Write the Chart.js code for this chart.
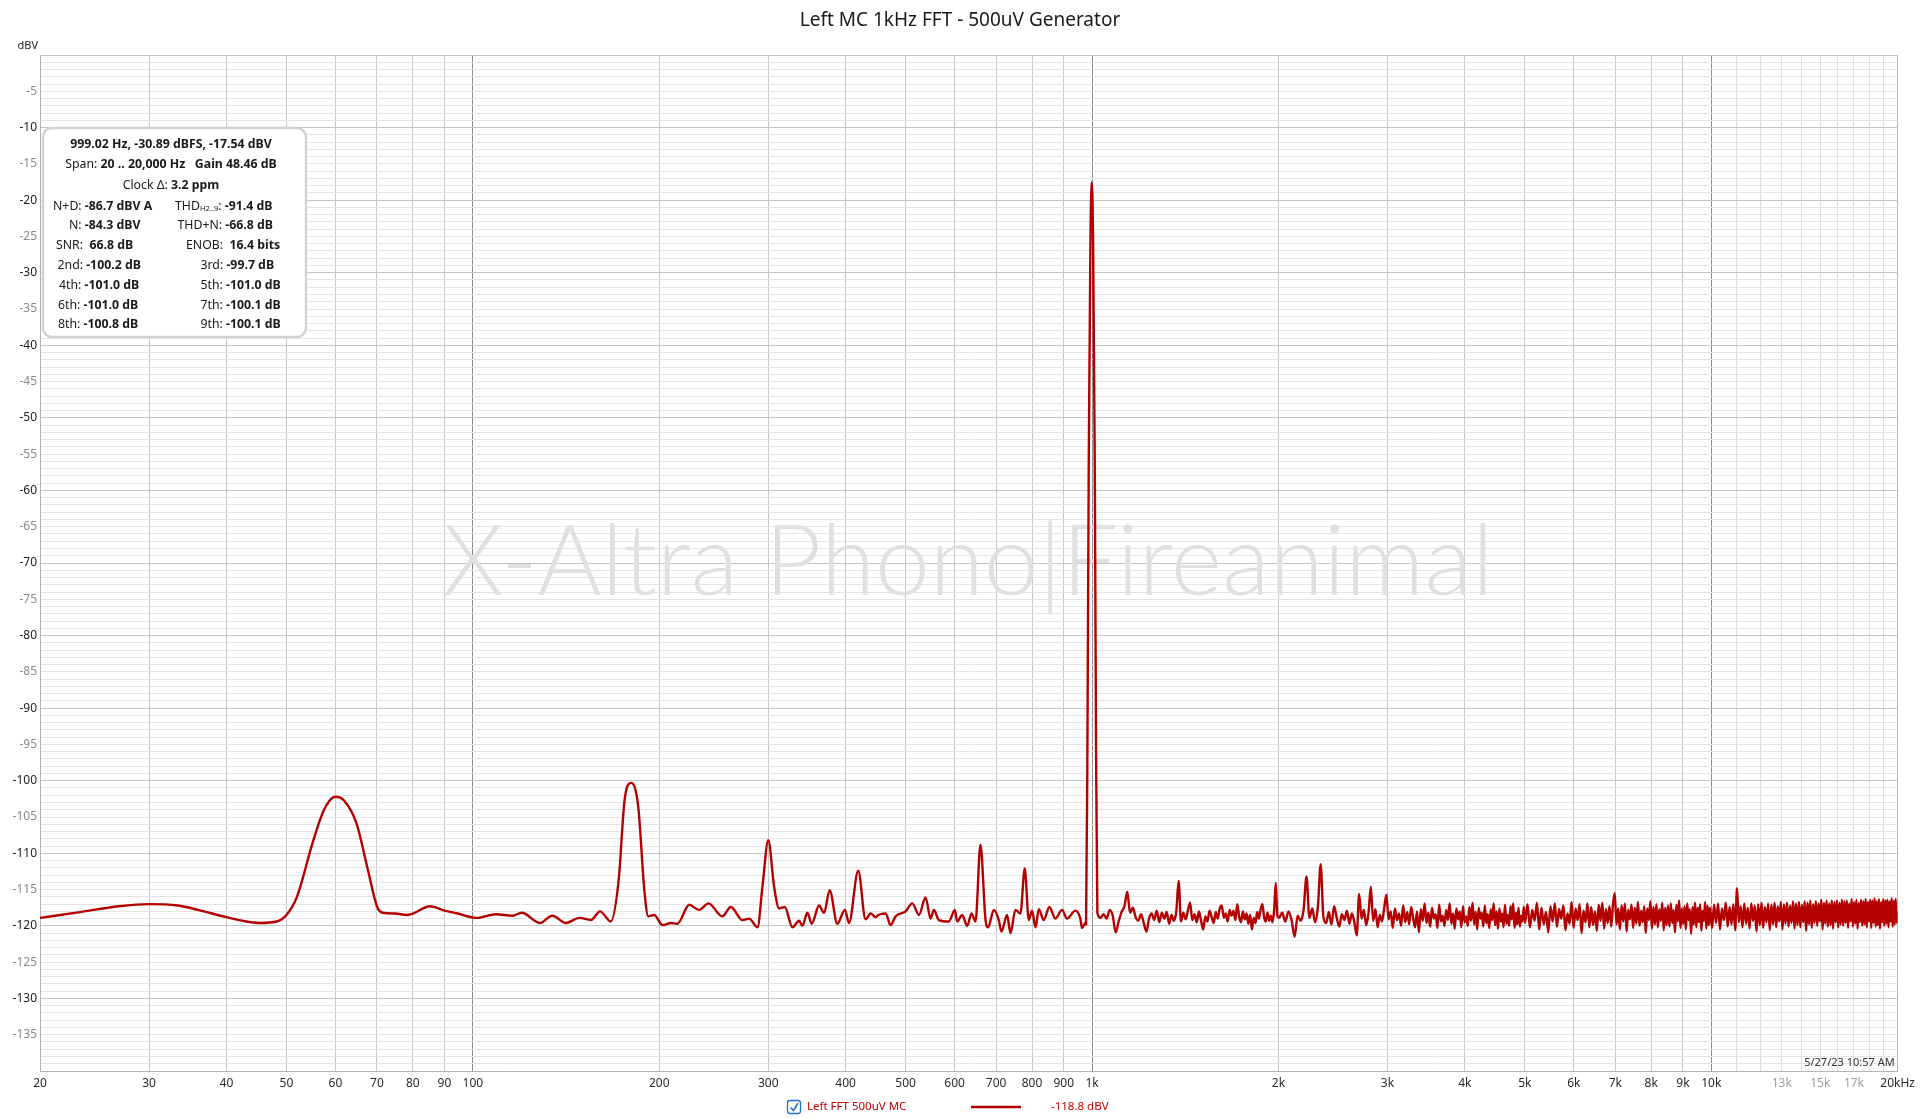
<!DOCTYPE html>
<html>
<head>
<meta charset="utf-8">
<title>Left MC 1kHz FFT - 500uV Generator</title>
<script src="https://cdn.jsdelivr.net/npm/chart.js@4.4.1/dist/chart.umd.min.js"></script>
<style>
  html, body { margin: 0; padding: 0; background: #fff; overflow: hidden; }
  canvas { display: block; }
</style>
</head>
<body>
<canvas id="fftChart" width="1920" height="1119"></canvas>
<script>
// fft.js — REW style FFT plot, Chart.js

const FONT      = '"Noto Sans", "Open Sans", sans-serif';
const WM_FONT   = 'Lato, "Noto Sans", sans-serif';
const TRACE_RED = '#b40000';

const TITLE      = 'Left MC 1kHz FFT - 500uV Generator';
const Y_UNIT     = 'dBV';
const WATERMARK  = 'X-Altra Phono|Fireanimal';
const TIMESTAMP  = '5/27/23 10:57 AM';
const LEGEND     = ['Left FFT 500uV MC', '-118.8 dBV'];

// ── Axes
const yRange      = [-140, 0];
const xRange      = [20, 20000];
const xTickValues = [20, 30, 40, 50, 60, 70, 80, 90, 100, 200, 300, 400, 500, 600, 700, 800, 900,
                     1000, 2000, 3000, 4000, 5000, 6000, 7000, 8000, 9000, 10000,
                     11000, 12000, 13000, 14000, 15000, 16000, 17000, 18000, 19000, 20000];
const xTickLabels = ['20', '30', '40', '50', '60', '70', '80', '90', '100', '200', '300', '400', '500', '600', '700', '800', '900',
                     '1k', '2k', '3k', '4k', '5k', '6k', '7k', '8k', '9k', '10k',
                     '', '', '13k', '', '15k', '', '17k', '', '', '20kHz'];
const xFaintTicks = [13000, 15000, 17000];
const xDecades    = [100, 1000, 10000];

// ── Trace: [Hz, dBV]
const lowBand = [
  [20, -118.9], [23.2, -118.1], [26.8, -117.3], [30, -117.0], [33.4, -117.2], [36, -117.8], [40, -118.8],
  [43.1, -119.4], [45.3, -119.6], [48.2, -119.4], [50, -118.5], [52, -116.0], [55.1, -108.6], [57.5, -104.0],
  [60, -102.2], [61.9, -102.7], [64.9, -105.9], [67.7, -112.3], [70, -117.3], [71.5, -118.2], [75, -118.3],
  [78.2, -118.5], [80, -118.3], [85.3, -117.3], [90, -117.9], [94.6, -118.3], [101.3, -118.9], [109, -118.4],
  [115.8, -118.6], [120, -118.2], [128.3, -119.6], [134.4, -118.6], [141.4, -119.6], [148.7, -118.9],
  [155.1, -119.2], [160.5, -118.0], [167, -119.4], [172, -113.7], [175.8, -102.7], [180.2, -100.3],
  [185, -103.6], [189.2, -115.0], [192, -118.7], [196.3, -118.5], [202.5, -119.9], [208.8, -119.6],
  [214, -119.7], [223.6, -117.1], [232, -117.8], [240.2, -116.9], [253, -118.7], [261, -117.4],
  [272.6, -119.2], [279.4, -119.0], [288.2, -120.2], [293.6, -114.6], [300, -108.2], [306.6, -114.6],
  [312.4, -117.6], [319, -117.4], [328.2, -120.2], [336.4, -119.3], [340.6, -120.0], [347, -118.2],
  [352.6, -119.7], [362.4, -117.2], [369.2, -118.2], [377, -115.1], [387.8, -119.7], [399, -117.8],
  [405, -119.6], [419.2, -112.4], [430.8, -119.1], [439, -118.3], [447.2, -118.8], [451.8, -118.5],
  [464.2, -118.3], [472.8, -119.9], [481.6, -118.7], [500, -118.0], [512.6, -116.9], [525.4, -118.5],
  [538.4, -116.1], [548.6, -119.0], [555.4, -117.8], [565.8, -119.2], [587.2, -119.4], [600.4, -117.8],
  [605.6, -119.4], [617, -118.5], [628.6, -120.0], [638.8, -118.3], [648.4, -119.4], [660.4, -108.8],
  [673, -119.2], [679.6, -120.2], [694, -117.8], [707, -119.2], [714, -120.8], [729.2, -118.5],
  [738.4, -121.0], [752.2, -117.8], [766.2, -118.3], [778.6, -112.1], [790.4, -119.2], [800, -117.9],
  [810.4, -120.2], [820.4, -117.7], [835.6, -119.2], [853.4, -117.4], [872.6, -119.0], [894.4, -117.8],
  [911.2, -119.0], [940, -117.9], [957.4, -119.0], [963.4, -120.3], [975.6, -119.6]
];

const carrierPeak = [
  [978, -119.8], [983, -95], [988, -55], [994, -26], [999, -17.54], [1004, -26], [1010, -55], [1015, -95]
];

const noiseA = [
  [1020, -118.2], [1032, -118.9], [1044, -118.4], [1056, -119.0], [1068, -117.8], [1080, -118.6], [1092, -120.9],
  [1104, -119.4], [1116, -118.1], [1128, -117.3], [1140, -115.3], [1152, -118.2], [1164, -117.5], [1176, -118.8],
  [1188, -119.3], [1200, -118.4], [1212, -119.6], [1224, -120.8], [1236, -119.0], [1248, -118.3], [1260, -119.2],
  [1272, -117.9], [1284, -119.5], [1296, -118.2], [1308, -119.0], [1320, -118.1], [1332, -119.7], [1344, -118.5],
  [1356, -119.3], [1368, -118.0], [1380, -113.8], [1392, -119.4], [1404, -118.2], [1416, -119.1], [1428, -117.9],
  [1440, -116.8], [1452, -119.2], [1464, -118.4], [1476, -119.5], [1488, -118.0], [1500, -119.3], [1512, -120.5],
  [1524, -118.7], [1536, -119.4], [1548, -117.9], [1560, -118.8], [1572, -119.6], [1584, -118.1], [1596, -119.0],
  [1608, -117.6], [1620, -117.2], [1632, -118.9], [1644, -118.3], [1656, -119.4], [1668, -117.8], [1680, -118.6],
  [1692, -117.9], [1704, -119.2], [1716, -117.0], [1728, -118.7], [1740, -119.5], [1752, -118.0], [1764, -119.1],
  [1776, -118.3], [1788, -119.7], [1800, -118.5], [1812, -120.5], [1824, -118.9], [1836, -119.6], [1848, -118.1],
  [1860, -119.0], [1872, -117.7], [1884, -117.0], [1896, -118.8], [1908, -119.4], [1920, -118.2], [1932, -119.3],
  [1944, -118.6], [1956, -119.5], [1968, -117.9], [1980, -114.1], [1992, -118.6]
];

const noiseB = [
  [2004, -118.9], [2028, -118.2], [2052, -119.4], [2076, -118.0], [2100, -119.2], [2124, -121.5], [2148, -118.6],
  [2172, -119.3], [2196, -117.8], [2220, -113.2], [2244, -118.9], [2268, -117.6], [2292, -119.5], [2316, -117.4],
  [2340, -111.5], [2364, -118.8], [2388, -119.6], [2412, -118.1], [2436, -119.8], [2460, -117.3], [2484, -118.9],
  [2508, -120.1], [2532, -118.4], [2556, -119.2], [2580, -117.9], [2604, -119.7], [2628, -118.3], [2652, -119.5],
  [2676, -121.3], [2700, -115.6], [2724, -119.0], [2748, -117.8], [2772, -119.9], [2796, -118.2], [2820, -114.6],
  [2844, -119.3], [2868, -117.7], [2892, -120.2], [2916, -118.5], [2940, -119.4], [2964, -117.5], [2988, -115.7],
  [3012, -119.1], [3036, -118.0], [3060, -120.3], [3084, -117.6], [3108, -119.2], [3132, -118.3], [3156, -120.0],
  [3180, -117.2], [3204, -119.5], [3228, -118.1], [3252, -119.8], [3276, -117.4], [3300, -118.9], [3324, -120.2],
  [3348, -118.0], [3372, -120.9], [3396, -117.7], [3420, -119.3], [3444, -116.9], [3468, -119.6], [3492, -118.2],
  [3516, -120.1], [3540, -117.5], [3564, -119.0], [3588, -118.4], [3612, -120.3], [3636, -117.1], [3660, -119.4],
  [3684, -118.6], [3708, -120.0], [3732, -117.8], [3756, -119.2], [3780, -116.9], [3804, -119.7], [3828, -118.3],
  [3852, -120.4], [3876, -117.6], [3900, -119.1], [3924, -118.0], [3948, -120.2], [3972, -117.3], [3996, -119.5],
  [4020, -118.7], [4044, -120.0], [4068, -117.4], [4092, -119.3], [4116, -116.8], [4140, -119.8], [4164, -118.1],
  [4188, -120.5], [4212, -117.5], [4236, -119.0], [4260, -118.2], [4284, -120.1], [4308, -117.2], [4332, -119.6],
  [4356, -118.4], [4380, -120.3], [4404, -117.7], [4428, -119.2], [4452, -116.9], [4476, -119.9], [4500, -118.0],
  [4524, -120.4], [4548, -117.6], [4572, -119.4], [4596, -118.3], [4620, -120.2], [4644, -117.1], [4668, -119.7],
  [4692, -118.5], [4716, -120.0], [4740, -117.3], [4764, -119.1], [4788, -116.9], [4812, -120.3], [4836, -118.2],
  [4860, -119.8], [4884, -117.5], [4908, -120.1], [4932, -118.6], [4956, -119.4], [4980, -117.4]
];

const noiseC = [
  [5004, -119.6], [5049, -117.0], [5094, -120.2], [5139, -117.8], [5184, -119.3], [5229, -116.8], [5274, -120.5],
  [5319, -117.5], [5364, -119.8], [5409, -118.1], [5454, -120.9], [5499, -117.3], [5544, -119.4], [5589, -116.9],
  [5634, -120.1], [5679, -117.7], [5724, -119.0], [5769, -117.2], [5814, -120.6], [5859, -118.3], [5904, -119.7],
  [5949, -116.7], [5994, -120.3], [6039, -117.6], [6084, -119.2], [6129, -117.0], [6174, -121.0], [6219, -117.9],
  [6264, -119.5], [6309, -116.9], [6354, -120.2], [6399, -117.4], [6444, -119.9], [6489, -118.0], [6534, -120.7],
  [6579, -117.1], [6624, -119.3], [6669, -116.8], [6714, -120.4], [6759, -117.7], [6804, -119.6], [6849, -117.3],
  [6894, -120.1], [6939, -117.0], [6984, -115.5], [7029, -119.8], [7074, -117.6], [7119, -120.5], [7164, -117.2],
  [7209, -119.4], [7254, -116.9], [7299, -120.8], [7344, -117.8], [7389, -119.1], [7434, -117.1], [7479, -120.3],
  [7524, -117.5], [7569, -119.7], [7614, -116.7], [7659, -120.0], [7704, -117.9], [7749, -119.5], [7794, -117.3],
  [7839, -121.0], [7884, -117.6], [7929, -119.2], [7974, -116.6], [8019, -120.4], [8064, -117.4], [8109, -119.8],
  [8154, -117.0], [8199, -120.2], [8244, -117.7], [8289, -119.3], [8334, -116.8], [8379, -120.6], [8424, -117.5],
  [8469, -119.9], [8514, -117.2], [8559, -120.1], [8604, -116.9], [8649, -119.6], [8694, -117.8], [8739, -120.9],
  [8784, -117.1], [8829, -119.4], [8874, -116.5], [8919, -120.3], [8964, -117.6], [9009, -119.7], [9054, -117.3],
  [9099, -120.5], [9144, -116.9], [9189, -119.2], [9234, -117.7], [9279, -121.1], [9324, -117.4], [9369, -119.8],
  [9414, -116.8], [9459, -120.2], [9504, -117.5], [9549, -119.5], [9594, -117.0], [9639, -120.7], [9684, -117.9],
  [9729, -119.3], [9774, -116.7], [9819, -120.4], [9864, -117.2], [9909, -119.9], [9954, -117.5]
];

const noiseD = [
  [10030, -120.3], [10105, -117.1], [10180, -119.6], [10255, -116.9], [10330, -120.5], [10405, -117.6], [10480, -119.2],
  [10555, -116.8], [10630, -120.1], [10705, -117.4], [10780, -119.8], [10855, -117.0], [10930, -120.6], [11005, -114.8],
  [11080, -119.5], [11155, -117.3], [11230, -120.2], [11305, -116.9], [11380, -119.7], [11455, -117.5], [11530, -120.4],
  [11605, -116.9], [11680, -119.3], [11755, -117.2], [11830, -120.8], [11905, -117.0], [11980, -119.9], [12055, -116.8],
  [12130, -120.3], [12205, -117.4], [12280, -119.5], [12355, -116.9], [12430, -120.6], [12505, -117.1], [12580, -119.8],
  [12655, -116.8], [12730, -120.2], [12805, -117.3], [12880, -119.4], [12955, -116.7], [13030, -120.5], [13105, -117.0],
  [13180, -119.7], [13255, -116.8], [13330, -120.1], [13405, -117.2], [13480, -119.6], [13555, -116.6], [13630, -120.4],
  [13705, -116.9], [13780, -119.9], [13855, -116.7], [13930, -120.2], [14005, -117.1], [14080, -119.5], [14155, -116.6],
  [14230, -120.7], [14305, -116.8], [14380, -119.8], [14455, -116.5], [14530, -120.3], [14605, -117.0], [14680, -119.6],
  [14755, -116.6], [14830, -120.0], [14905, -116.9], [14980, -119.4], [15055, -116.4], [15130, -120.5], [15205, -116.8],
  [15280, -119.7], [15355, -116.5], [15430, -120.1], [15505, -116.9], [15580, -119.9], [15655, -116.5], [15730, -120.4],
  [15805, -116.7], [15880, -119.5], [15955, -116.5], [16030, -120.2], [16105, -116.8], [16180, -119.8], [16255, -116.4],
  [16330, -120.0], [16405, -116.6], [16480, -119.6], [16555, -116.5], [16630, -120.3], [16705, -116.9], [16780, -119.4],
  [16855, -116.3], [16930, -120.1], [17005, -116.7], [17080, -119.7], [17155, -116.4], [17230, -120.4], [17305, -116.8],
  [17380, -119.5], [17455, -116.4], [17530, -120.0], [17605, -116.6], [17680, -119.8], [17755, -116.3], [17830, -120.2],
  [17905, -116.7], [17980, -119.4], [18055, -116.4], [18130, -120.3], [18205, -116.5], [18280, -119.6], [18355, -116.2],
  [18430, -120.1], [18505, -116.6], [18580, -119.9], [18655, -116.3], [18730, -120.4], [18805, -116.7], [18880, -119.5],
  [18955, -116.3], [19030, -120.0], [19105, -116.5], [19180, -119.7], [19255, -116.4], [19330, -120.2], [19405, -116.6],
  [19480, -119.4], [19555, -116.2], [19630, -120.1], [19705, -116.5], [19780, -119.8], [19855, -116.3], [19930, -119.6],
  [20000, -118.0]
];

// ── Measurement panel text: [text, style] style 0 normal, 1 bold, 2 subscript
const infoHeader = [
  [['999.02 Hz, -30.89 dBFS, -17.54 dBV', 1]],
  [['Span: ', 0], ['20 .. 20,000 Hz   Gain 48.46 dB', 1]],
  [['Clock \u0394: ', 0], ['3.2 ppm', 1]]
];
const infoLeft = [
  [['N+D: ', 0], ['-86.7 dBV A', 1]],
  [['N: ', 0], ['-84.3 dBV', 1]],
  [['SNR:  ', 0], ['66.8 dB', 1]],
  [['2nd: ', 0], ['-100.2 dB', 1]],
  [['4th: ', 0], ['-101.0 dB', 1]],
  [['6th: ', 0], ['-101.0 dB', 1]],
  [['8th: ', 0], ['-100.8 dB', 1]]
];
const infoRight = [
  [['THD', 0], ['H2..9', 2], [': ', 0], ['-91.4 dB', 1]],
  [['THD+N: ', 0], ['-66.8 dB', 1]],
  [['ENOB:  ', 0], ['16.4 bits', 1]],
  [['3rd: ', 0], ['-99.7 dB', 1]],
  [['5th: ', 0], ['-101.0 dB', 1]],
  [['7th: ', 0], ['-100.1 dB', 1]],
  [['9th: ', 0], ['-100.1 dB', 1]]
];

// panel layout (px)
const PANEL = {
  x: 43, y: 128, w: 263, h: 209, r: 9,
  cx: 171, headY: [144.5, 164.5, 185.5], rowY: 206, rowStep: 19.8,
  leftX : [53, 69, 56, 57.5, 59, 58, 58],
  rightX: [175, 177.5, 186, 200.5, 200.5, 200.5, 200.5],
  size: 12.3
};

const trace = [...lowBand, ...carrierPeak, ...noiseA, ...noiseB, ...noiseC, ...noiseD]
  .map(([x, y]) => ({ x, y }));

// ── helpers
function setFont(ctx, style, size) {
  const s = style === 2 ? size * 0.62 : size;
  ctx.font = (style === 1 ? 'bold ' : '') + s + 'px ' + FONT;
}

function runsWidth(ctx, runs, size) {
  let w = 0;
  runs.forEach(([t, st]) => { setFont(ctx, st, size); w += ctx.measureText(t).width; });
  return w;
}

function drawRuns(ctx, runs, x, y, size) {
  runs.forEach(([t, st]) => {
    setFont(ctx, st, size);
    ctx.fillText(t, x, st === 2 ? y + 3 : y);
    x += ctx.measureText(t).width;
  });
}

function drawPanel(ctx) {
  const p = PANEL;
  ctx.save();
  ctx.beginPath();
  ctx.roundRect(p.x, p.y, p.w, p.h, p.r);
  ctx.fillStyle = '#ffffff';
  ctx.fill();
  ctx.lineWidth = 2.5;
  ctx.strokeStyle = '#d2d2d2';
  ctx.stroke();

  ctx.fillStyle = '#1a1a1a';
  ctx.textBaseline = 'middle';
  ctx.textAlign = 'left';
  infoHeader.forEach((runs, i) => {
    const w = runsWidth(ctx, runs, p.size);
    drawRuns(ctx, runs, p.cx - w / 2, p.headY[i], p.size);
  });
  infoLeft.forEach((row, i)  => drawRuns(ctx, row, p.leftX[i],  p.rowY + i * p.rowStep, p.size));
  infoRight.forEach((row, i) => drawRuns(ctx, row, p.rightX[i], p.rowY + i * p.rowStep, p.size));
  ctx.restore();
}

function xGridColor(v) {
  if (v === xRange[0] || v === xRange[1]) return '#b4b4b4';
  if (xDecades.includes(v)) return '#8c8c8c';
  if (v > 10000) return '#dedede';
  return '#c6c6c6';
}

// ── plugins
const decor = {
  id: 'decor',
  beforeDraw(chart) {
    const { ctx, width, height } = chart;
    ctx.save();
    ctx.fillStyle = '#fff';
    ctx.fillRect(0, 0, width, height);
    ctx.restore();
  },
  beforeDatasetsDraw(chart) {
    const { ctx } = chart;
    ctx.save();
    ctx.font = '300 100px ' + WM_FONT;
    const w = ctx.measureText(WATERMARK).width;
    ctx.font = '300 ' + (100 * 1051 / w).toFixed(1) + 'px ' + WM_FONT;
    ctx.fillStyle = '#e0e0e0';
    ctx.textAlign = 'center';
    ctx.textBaseline = 'middle';
    ctx.fillText(WATERMARK, 968, 563);
    ctx.restore();
  },
  afterDraw(chart) {
    const { ctx, chartArea: a } = chart;
    ctx.save();

    // title
    ctx.fillStyle = '#1a1a1a';
    ctx.font = '19px ' + FONT;
    ctx.textAlign = 'center';
    ctx.textBaseline = 'middle';
    ctx.fillText(TITLE, 960, 21);

    // unit
    ctx.font = '11px ' + FONT;
    ctx.textAlign = 'right';
    ctx.fillText(Y_UNIT, 38, 46);

    // timestamp
    ctx.fillStyle = '#333';
    ctx.font = '11px ' + FONT;
    ctx.fillText(TIMESTAMP, a.right - 3, a.bottom - 8);

    // legend
    const ly = 1107;
    ctx.strokeStyle = '#1f6fd6';
    ctx.lineWidth = 1.3;
    ctx.beginPath();
    ctx.roundRect(787.5, ly - 6.5, 13, 13, 2.5);
    ctx.stroke();
    ctx.beginPath();
    ctx.lineWidth = 1.6;
    ctx.moveTo(790.5, ly + 0.5);
    ctx.lineTo(793.5, ly + 3.5);
    ctx.lineTo(798, ly - 4);
    ctx.stroke();

    ctx.fillStyle = '#c00000';
    ctx.font = '11.5px ' + FONT;
    ctx.textAlign = 'left';
    ctx.fillText(LEGEND[0], 807, ly);
    ctx.fillText(LEGEND[1], 1051, ly);
    ctx.strokeStyle = TRACE_RED;
    ctx.lineWidth = 2.5;
    ctx.beginPath();
    ctx.moveTo(971, ly);
    ctx.lineTo(1021, ly);
    ctx.stroke();
    ctx.restore();

    drawPanel(ctx);
  }
};

// ── chart
new Chart(document.getElementById('fftChart'), {
  type: 'line',
  data: {
    datasets: [{
      label                 : LEGEND[0],
      data                  : trace,
      borderColor           : TRACE_RED,
      borderWidth           : 2.4,
      pointRadius           : 0,
      fill                  : false,
      cubicInterpolationMode: 'monotone'
    }]
  },
  options: {
    responsive      : false,
    animation       : false,
    devicePixelRatio: 1,
    events          : [],
    layout          : { padding: { top: 55, right: 20, left: 0, bottom: 0 } },
    plugins: {
      legend : { display: false },
      tooltip: { enabled: false },
      title  : { display: false }
    },
    scales: {
      x: {
        type: 'logarithmic',
        min : xRange[0],
        max : xRange[1],
        afterBuildTicks: s => { s.ticks = xTickValues.map(v => ({ value: v })); },
        afterFit       : s => { s.height = 48; },
        border: { color: '#b4b4b4' },
        grid  : { color: c => xGridColor(c.tick.value), drawTicks: false },
        ticks : {
          autoSkip   : false,
          maxRotation: 0,
          padding    : 5,
          font       : { family: FONT, size: 12 },
          color      : c => xFaintTicks.includes(c.tick.value) ? '#a0a0a0' : '#2a2a2a',
          callback   : v => xTickLabels[xTickValues.indexOf(v)] ?? ''
        }
      },
      y: {
        min: yRange[0],
        max: yRange[1],
        afterFit: s => { s.width = 40; },
        border: { color: '#b4b4b4' },
        grid  : { color: c => c.tick.value % 10 === 0 ? '#c6c6c6' : '#e4e4e4', drawTicks: false },
        ticks : {
          stepSize     : 1,
          maxTicksLimit: 200,
          autoSkip     : false,
          padding      : 3,
          font         : { family: FONT, size: 12 },
          color        : c => c.tick.value % 10 === 0 ? '#222' : '#8a8a8a',
          callback     : v => (v % 5 === 0 && v !== yRange[0] && v !== yRange[1]) ? String(v) : ''
        }
      }
    }
  },
  plugins: [decor]
});
</script>
</body>
</html>
